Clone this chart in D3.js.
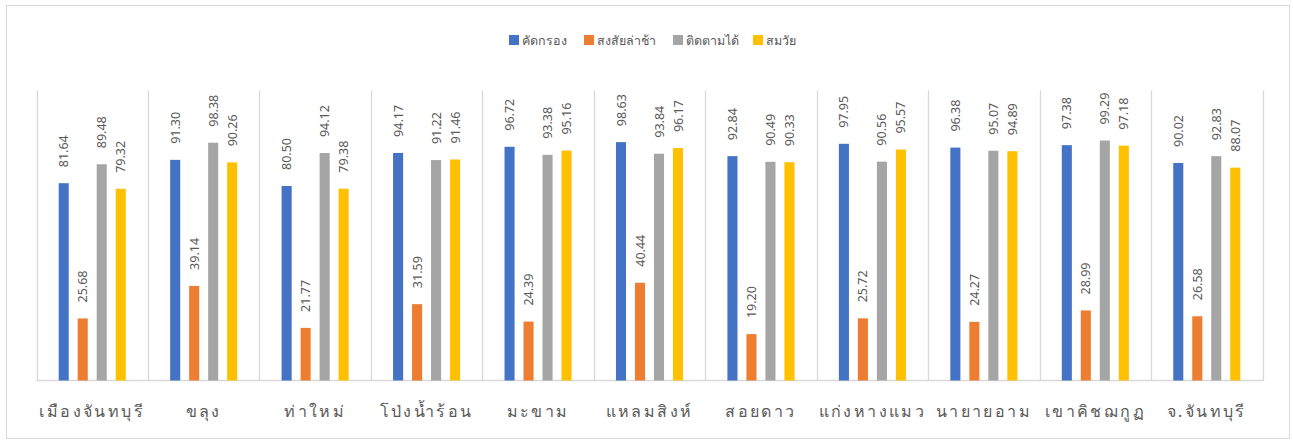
<!DOCTYPE html>
<html><head><meta charset="utf-8">
<script src="https://cdn.jsdelivr.net/npm/d3@7"></script>
<style>html,body{margin:0;padding:0;background:#fff;} svg{display:block;font-family:"Noto Sans","Noto Sans CJK SC",sans-serif;}</style>
</head><body>
<svg id="c" width="1293" height="441"></svg>
<script>
const categories = ["เมืองจันทบุรี","ขลุง","ท่าใหม่","โป่งน้ำร้อน","มะขาม","แหลมสิงห์","สอยดาว","แก่งหางแมว","นายายอาม","เขาคิชฌกูฏ","จ.จันทบุรี"];
const seriesNames = ["คัดกรอง","สงสัยล่าช้า","ติดตามได้","สมวัย"];
const colors = ["#4472C4","#ED7D31","#A5A5A5","#FFC000"];
const screened  = [81.64,91.30,80.50,94.17,96.72,98.63,92.84,97.95,96.38,97.38,90.02];
const suspected = [25.68,39.14,21.77,31.59,24.39,40.44,19.20,25.72,24.27,28.99,26.58];
const followed  = [89.48,98.38,94.12,91.22,93.38,93.84,90.49,90.56,95.07,99.29,92.83];
const ageAppropriate = [79.32,90.26,79.38,91.46,95.16,96.17,90.33,95.57,94.89,97.18,88.07];
const seriesValues = [screened, suspected, followed, ageAppropriate];

const svg = d3.select("#c");
// outer border
svg.append("rect").attr("x",6.5).attr("y",5.5).attr("width",1283).attr("height",433)
  .attr("fill","none").attr("stroke","#d9d9d9").attr("stroke-width",1);

const x0 = d3.scaleBand().domain(categories).range([36.5, 1262.5]).paddingInner(0).paddingOuter(0);
const x1 = d3.scaleBand().domain(seriesNames).range([-38, 38]).paddingInner(0.47).paddingOuter(0.235);
const y = d3.scaleLinear().domain([0,120]).range([380.5, 90.5]);

// separators
const bounds = categories.map(c => x0(c)).concat([x0.range()[1]]);
svg.append("g").selectAll("line").data(bounds).join("line")
  .attr("x1",d=>Math.round(d)+0.5).attr("x2",d=>Math.round(d)+0.5)
  .attr("y1",y.range()[1]).attr("y2",y(0))
  .attr("stroke","#d9d9d9").attr("stroke-width",1.3);
// baseline
svg.append("line").attr("x1",x0.range()[0]).attr("x2",x0.range()[1]+1)
  .attr("y1",y(0)).attr("y2",y(0)).attr("stroke","#d9d9d9").attr("stroke-width",1.3);

const data = [];
categories.forEach((c,i)=>seriesNames.forEach((s,j)=>data.push({c,s,j,v:seriesValues[j][i]})));

const cx = d => x0(d.c) + x0.bandwidth()/2 + x1(d.s);
svg.append("g").selectAll("rect").data(data).join("rect")
  .attr("x", cx).attr("width", x1.bandwidth())
  .attr("y", d=>y(d.v)).attr("height", d=>y(0)-y(d.v))
  .attr("fill", d=>colors[d.j]);

svg.append("g").selectAll("text").data(data).join("text")
  .attr("transform", d=>`translate(${cx(d)+x1.bandwidth()/2+4.5},${y(d.v)-16}) rotate(-90)`)
  .attr("font-size",12.5).attr("fill","#595959").attr("text-anchor","start")
  .text(d=>d.v.toFixed(2));

// category labels
svg.append("g").selectAll("text").data(categories).join("text")
  .attr("x", c=>x0(c)+x0.bandwidth()/2).attr("y",417)
  .attr("text-anchor","middle").attr("font-size",16).attr("fill","#595959")
  .attr("letter-spacing","2.4px")
  .text(c=>c);

// legend
const legX = [509, 584, 673, 753];
const leg = svg.append("g").selectAll("g").data(seriesNames).join("g")
  .attr("transform",(d,i)=>`translate(${legX[i]},35)`);
leg.append("rect").attr("width",10).attr("height",10).attr("fill",(d,i)=>colors[i]);
leg.append("text").attr("x",13).attr("y",9.5).attr("font-size",12.5).attr("fill","#595959").text(d=>d);
</script>
</body></html>
